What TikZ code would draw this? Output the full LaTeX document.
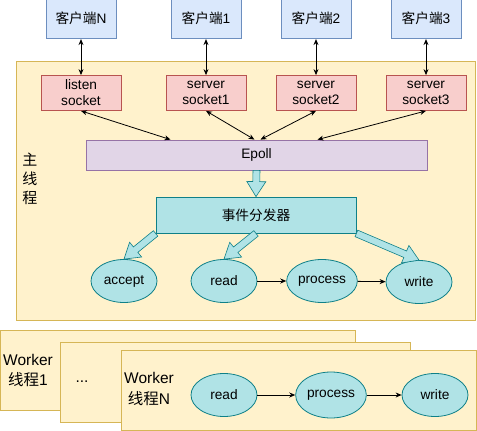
\documentclass[tikz,border=0pt]{standalone}
\usepackage{fontspec}
\setmainfont{Liberation Sans}
\newfontfamily\cjk{Noto Sans CJK SC}
\usetikzlibrary{positioning,shapes.geometric,calc,arrows.meta}
\definecolor{blueF}{HTML}{DAE8FC}
\definecolor{blueD}{HTML}{6C8EBF}
\definecolor{redF}{HTML}{F8CECC}
\definecolor{redD}{HTML}{B85450}
\definecolor{yelF}{HTML}{FFF2CC}
\definecolor{yelD}{HTML}{D6B656}
\definecolor{purF}{HTML}{E1D5E7}
\definecolor{purD}{HTML}{9673A6}
\definecolor{tealF}{HTML}{B0E3E6}
\definecolor{tealD}{HTML}{0E8088}
% wide hollow arrow from #1 to #2
\newcommand{\fatarrow}[2]{%
  \coordinate (fa-n) at ($(#2)!15pt!(#1)$);
  \filldraw[fat] ($(#1)!3.5pt!90:(#2)$) -- ($(fa-n)!3.5pt!90:(#2)$) -- ($(fa-n)!9.5pt!90:(#2)$) -- (#2)
    -- ($(fa-n)!9.5pt!-90:(#2)$) -- ($(fa-n)!3.5pt!-90:(#2)$) -- ($(#1)!3.5pt!-90:(#2)$) -- cycle;}
\begin{document}
\begin{tikzpicture}[x=1pt, y=-1pt, line width=0.8pt, >={Stealth[length=6pt,width=5pt]},
   every node/.style={font=\fontsize{13.7}{16}\selectfont, inner sep=1pt},
   frame/.style={draw=yelD, fill=yelF},
   client/.style={draw=blueD, fill=blueF, minimum width=70pt, minimum height=40pt},
   sock/.style={draw=redD, fill=redF, minimum width=80pt, minimum height=35pt, align=center},
   epollbox/.style={draw=purD, fill=purF, minimum width=341pt, minimum height=30pt},
   disp/.style={draw=tealD, fill=tealF, minimum width=200pt, minimum height=36pt},
   ev/.style={ellipse, draw=tealD, fill=tealF, minimum width=66pt, minimum height=43pt},
   fat/.style={draw=tealD, fill=tealF, line width=0.6pt},
   worker/.style={align=center, font=\fontsize{15.5}{21}\selectfont},
   node distance=36pt]
   \useasboundingbox (0,0) rectangle (477,431);
   % main thread
   \draw[frame] (16,61) rectangle (475,320);
   \node (M) at (30,179) [align=center, font=\cjk\fontsize{15}{19}\selectfont] {主\\线\\程};
   \node (L)  at (81,93)  [sock] {listen\\socket};
   \node (S1) at (206,93) [sock] {server\\socket1};
   \node (S2) at (316,93) [sock] {server\\socket2};
   \node (S3) at (426,93) [sock] {server\\socket3};
   \node (CN) [client, above=of L]  {{\cjk 客户端}N};
   \node (C1) [client, above=of S1] {{\cjk 客户端}1};
   \node (C2) [client, above=of S2] {{\cjk 客户端}2};
   \node (C3) [client, above=of S3] {{\cjk 客户端}3};
   \node (E)  at (256.5,155) [epollbox] {Epoll};
   \node (D)  at (256,215) [disp] {\cjk 事件分发器};
   \node (A)  at (124,281) [ev] {accept};
   \node (R)  at (224,281) [ev] {read};
   \node (P)  at (322,281) [ev] {process};
   \node (W)  at (419,282) [ev] {write};
   \draw[<->] (CN) -- (L);
   \draw[<->] (C1) -- (S1);
   \draw[<->] (C2) -- (S2);
   \draw[<->] (C3) -- (S3);
   \draw[<->] (L.south)  -- ([xshift=-86pt]E.north);
   \draw[<->] (S1.south) -- ([xshift=-2pt]E.north);
   \draw[<->] (S2.south) -- ([xshift=4pt]E.north);
   \draw[<->] (S3.south) -- ([xshift=61pt]E.north);
   \fatarrow{E.south}{D.north}
   \fatarrow{D.south west}{A.north}
   \fatarrow{D.south}{R.north}
   \fatarrow{D.south east}{W.north}
   \draw[->] (R) -- (P);
   \draw[->] (P) -- (W);
   % worker threads
   \draw[frame] (0,330) rectangle (355,410);
   \draw[frame] (60,342) rectangle (410,422);
   \draw[frame] (121,350) rectangle (476,430);
   \node (K1) at (28,370) [worker, font=\fontsize{15.5}{20}\selectfont] {Worker\\{\cjk 线程}1};
   \node (K2) at (82,382) [worker] {...};
   \node (KN) at (149,389) [worker] {Worker\\{\cjk 线程}N};
   \node (WR) at (224,395) [ev] {read};
   \node (WP) at (331,395) [ev, minimum height=46pt] {process};
   \node (WW) at (435,395) [ev] {write};
   \draw[->] (WR) -- (WP);
   \draw[->] (WP) -- (WW);
\end{tikzpicture}
\end{document}
